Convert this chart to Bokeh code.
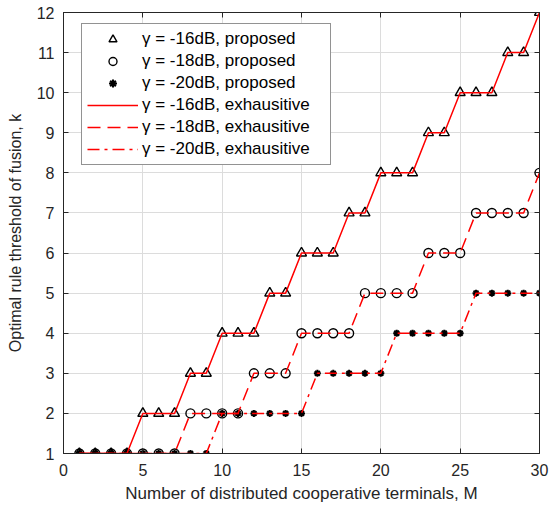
from bokeh.plotting import figure
from bokeh.models import LinearAxis, Legend, LegendItem, FixedTicker, Range1d
from bokeh.embed import file_html
from bokeh.resources import INLINE

M = [1, 2, 3, 4, 5, 6, 7, 8, 9, 10, 11, 12, 13, 14, 15,
     16, 17, 18, 19, 20, 21, 22, 23, 24, 25, 26, 27, 28, 29, 30]
k16 = [1, 1, 1, 1, 2, 2, 2, 3, 3, 4, 4, 4, 5, 5, 6,
       6, 6, 7, 7, 8, 8, 8, 9, 9, 10, 10, 10, 11, 11, 12]
k18 = [1, 1, 1, 1, 1, 1, 1, 2, 2, 2, 2, 3, 3, 3, 4,
       4, 4, 4, 5, 5, 5, 5, 6, 6, 6, 7, 7, 7, 7, 8]
k20 = [1, 1, 1, 1, 1, 1, 1, 1, 1, 2, 2, 2, 2, 2, 2,
       3, 3, 3, 3, 3, 4, 4, 4, 4, 4, 5, 5, 5, 5, 5]
labels = ["γ = -16dB, proposed", "γ = -18dB, proposed", "γ = -20dB, proposed",
          "γ = -16dB, exhausitive", "γ = -18dB, exhausitive", "γ = -20dB, exhausitive"]
x_ticks = [0, 5, 10, 15, 20, 25, 30]
y_ticks = [1, 2, 3, 4, 5, 6, 7, 8, 9, 10, 11, 12]

FONT = "Liberation Sans"
p = figure(width=551, height=505, output_backend="svg", toolbar_location=None,
           x_range=Range1d(0, 30), y_range=Range1d(1, 12),
           min_border_left=63, min_border_right=12, min_border_top=12, min_border_bottom=52)
p.outline_line_color = "#262626"
p.outline_line_width = 1

red = "#FF0000"
s16 = p.scatter(M, k16, marker="triangle", size=10, fill_color=None, line_color="black", line_width=1.4)
s18 = p.scatter(M, k18, marker="circle", size=9, fill_color=None, line_color="black", line_width=1.4)
s20 = p.scatter(M, k20, marker="asterisk", size=7, line_color="black", line_width=2)
l16 = p.line(M, k16, line_color=red, line_width=1.5)
l18 = p.line(M, k18, line_color=red, line_width=1.5, line_dash="13 7")
l20 = p.line(M, k20, line_color=red, line_width=1.5, line_dash="12 5 3 5")

for ax in [p.xaxis[0], p.yaxis[0]]:
    ax.major_label_text_font = FONT
    ax.major_label_text_font_size = "16px"
    ax.major_label_text_color = "#262626"
    ax.axis_label_text_font = FONT
    ax.axis_label_text_font_style = "normal"
    ax.axis_label_text_color = "#262626"
    ax.axis_line_color = "#262626"
    ax.major_tick_line_color = "#262626"
    ax.major_tick_in = 5
    ax.major_tick_out = 0
    ax.minor_tick_line_color = None
p.xaxis[0].ticker = FixedTicker(ticks=x_ticks)
p.yaxis[0].ticker = FixedTicker(ticks=y_ticks)
p.xaxis[0].axis_label = "Number of distributed cooperative terminals, M"
p.yaxis[0].axis_label = "Optimal rule threshold of fusion, k"
p.xaxis[0].axis_label_text_font_size = "17px"
p.yaxis[0].axis_label_text_font_size = "16px"
p.xaxis[0].major_label_standoff = 10
p.yaxis[0].major_label_standoff = 9
p.xaxis[0].axis_label_standoff = 5
p.yaxis[0].axis_label_standoff = 10

top = LinearAxis(ticker=FixedTicker(ticks=x_ticks), major_label_text_color=None,
                 major_tick_in=5, major_tick_out=0, minor_tick_line_color=None,
                 axis_line_color="#262626", major_tick_line_color="#262626")
right = LinearAxis(ticker=FixedTicker(ticks=y_ticks), major_label_text_color=None,
                   major_tick_in=5, major_tick_out=0, minor_tick_line_color=None,
                   axis_line_color="#262626", major_tick_line_color="#262626")
top.major_label_text_font_size = "0px"
right.major_label_text_font_size = "0px"
top.major_label_standoff = 0
right.major_label_standoff = 0
p.add_layout(top, "above")
p.add_layout(right, "right")

p.xgrid.ticker = FixedTicker(ticks=x_ticks)
p.ygrid.ticker = FixedTicker(ticks=y_ticks)
p.grid.grid_line_color = "#dcdcdc"
p.grid.grid_line_width = 1

legend = Legend(items=[
    LegendItem(label=labels[0], renderers=[s16]),
    LegendItem(label=labels[1], renderers=[s18]),
    LegendItem(label=labels[2], renderers=[s20]),
    LegendItem(label=labels[3], renderers=[l16]),
    LegendItem(label=labels[4], renderers=[l18]),
    LegendItem(label=labels[5], renderers=[l20]),
], location=(18, 288))
legend.label_text_font = FONT
legend.label_text_font_size = "17px"
legend.label_text_color = "black"
legend.glyph_width = 51
legend.glyph_height = 20
legend.label_height = 20
legend.label_width = 183
legend.spacing = 2
legend.padding = 5
legend.margin = 0
legend.label_standoff = 4
legend.border_line_color = "#262626"
legend.border_line_width = 1
legend.background_fill_alpha = 1
p.add_layout(legend, "center")

open("out.html", "w").write(file_html(p, INLINE))
